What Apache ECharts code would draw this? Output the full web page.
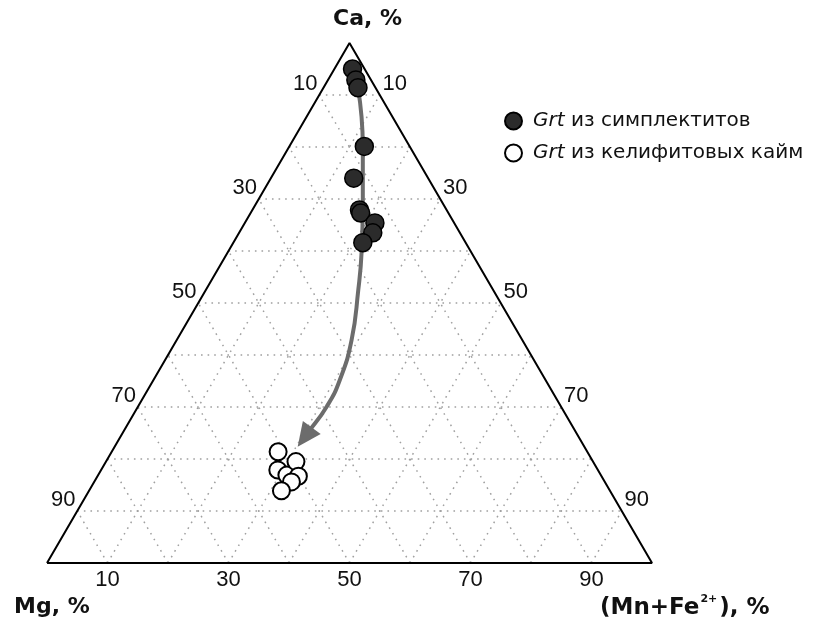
<!DOCTYPE html>
<html><head><meta charset="utf-8">
<script src="https://cdn.jsdelivr.net/npm/echarts@6/dist/echarts.min.js"></script>
<style>html,body{margin:0;padding:0;background:#fff}#c{width:819px;height:624px}</style>
</head><body><div id="c"></div>
<script>
// Ternary compositions: [Ca %, Mg %, (Mn+Fe2+) %]
const symplectite = [
  [95.0, 2.0, 3.0],
  [92.9, 2.5, 4.6],
  [91.4, 2.9, 5.7],
  [80.1, 7.5, 12.4],
  [74.0, 12.3, 13.7],
  [67.9, 14.4, 17.7],
  [67.3, 14.5, 18.2],
  [65.4, 13.1, 21.5],
  [63.5, 14.4, 22.1],
  [61.6, 17.0, 21.4]
];
const kelyphite = [
  [21.4, 51.1, 27.5],
  [17.9, 52.9, 29.2],
  [16.9, 51.9, 31.2],
  [19.5, 49.1, 31.4],
  [16.7, 50.1, 33.2],
  [15.6, 51.8, 32.6],
  [13.9, 54.3, 31.8]
];
// Arrow path (annotation): [Ca %, (Mn+Fe) %]
const arrowPath = [
  [91.4, 5.7], [80.0, 12.2], [69.8, 17.3], [59.8, 22.1], [52.5, 25.2],
  [42.9, 28.9], [35.2, 30.8], [30.1, 31.2], [25.0, 30.6], [24.2, 30.5]
];
const tickValues = [10, 30, 50, 70, 90];
const gridValues = [10, 20, 30, 40, 50, 60, 70, 80, 90];
const seriesNames = ['Grt из симплектитов', 'Grt из келифитовых кайм'];

// ternary -> cartesian (x: 0..100 along base, y: Ca %)
function toXY(ca, f) { return [f + ca / 2, ca]; }

const gridLines = [];
gridValues.forEach(k => {
  gridLines.push({coords: [toXY(k, 0), toXY(k, 100 - k)]});          // Ca = k
  gridLines.push({coords: [toXY(0, k), toXY(100 - k, k)]});          // MnFe = k
  gridLines.push({coords: [toXY(0, 100 - k), toXY(100 - k, 0)]});    // Mg = k
});

const font = "'Liberation Sans', Arial, sans-serif";
const wide = "'DejaVu Sans', sans-serif";
const tickStyle = {fontFamily: font, fontSize: 22, color: '#111'};

const chart = echarts.init(document.getElementById('c'));
chart.setOption({
  animation: false,
  backgroundColor: '#fff',
  grid: {left: 47, right: 167, top: 43, bottom: 61},
  xAxis: {
    type: 'value', min: 0, max: 100, interval: 10,
    axisLine: {show: false}, axisTick: {show: false}, splitLine: {show: false},
    axisLabel: Object.assign({margin: 6, formatter: v => tickValues.includes(v) ? String(v) : ''}, tickStyle)
  },
  yAxis: {type: 'value', min: 0, max: 100, show: false},
  title: [
    {text: 'Ca, %', left: 328, top: 3, textStyle: {fontFamily: wide, fontSize: 22, fontWeight: 'bold', color: '#111'}},
    {text: 'Mg, %', left: 9, top: 591, textStyle: {fontFamily: wide, fontSize: 22, fontWeight: 'bold', color: '#111'}},
    {text: '{a|(Mn+Fe}{s|2+}{a|), %}', left: 595, top: 589, textStyle: {rich: {
      a: {fontFamily: wide, fontSize: 23, fontWeight: 'bold', color: '#111', lineHeight: 28},
      s: {fontFamily: wide, fontSize: 11, fontWeight: 'bold', color: '#111', padding: [0, 2, 17, 1], lineHeight: 28}
    }}}
  ],
  legend: {
    data: seriesNames, orient: 'vertical', left: 499, top: 106, itemGap: 12,
    itemWidth: 17, itemHeight: 17, icon: 'circle',
    formatter: n => n.replace('Grt', '{i|Grt}'),
    textStyle: {fontFamily: wide, fontSize: 20, color: '#111', padding: [0, 0, 0, 6],
      rich: {i: {fontFamily: wide, fontSize: 20, fontStyle: 'italic', color: '#111'}}}
  },
  series: [
    {
      type: 'lines', coordinateSystem: 'cartesian2d', polyline: false, silent: true, z: 1,
      lineStyle: {color: '#a0a0a0', width: 1.5, type: [1.6, 5], opacity: 1},
      data: gridLines
    },
    {
      type: 'line', silent: true, symbol: 'none', clip: false, z: 3,
      lineStyle: {color: '#000', width: 2},
      data: [toXY(0, 0), toXY(0, 100), toXY(100, 0), toXY(0, 0)]
    },
    {
      type: 'scatter', silent: true, symbolSize: 1, itemStyle: {color: 'transparent', opacity: 1},
      label: Object.assign({show: true, position: 'top', distance: 0, offset: [-14, 0], formatter: p => p.data[2]}, tickStyle),
      data: tickValues.map(v => toXY(100 - v, 0).concat([v]))
    },
    {
      type: 'scatter', silent: true, symbolSize: 1, itemStyle: {color: 'transparent', opacity: 1},
      label: Object.assign({show: true, position: 'top', distance: 0, offset: [15, 0], formatter: p => p.data[2]}, tickStyle),
      data: tickValues.map(v => toXY(100 - v, v).concat([v]))
    },
    {
      type: 'line', silent: true, symbol: 'none', smooth: 0.5, clip: false, z: 4,
      lineStyle: {color: '#6c6c6c', width: 4},
      data: arrowPath.map(p => toXY(p[0], p[1]))
    },
    {
      type: 'scatter', silent: true, z: 4, symbol: 'triangle', symbolSize: [22, 24], symbolRotate: 144,
      itemStyle: {color: '#6c6c6c', opacity: 1},
      data: [toXY(arrowPath[arrowPath.length - 1][0], arrowPath[arrowPath.length - 1][1])]
    },
    {
      name: seriesNames[0], type: 'scatter', z: 5, symbol: 'circle', symbolSize: 18,
      itemStyle: {color: '#2b2b2b', borderColor: '#000', borderWidth: 1.5, opacity: 1},
      data: symplectite.map(p => toXY(p[0], p[2]))
    },
    {
      name: seriesNames[1], type: 'scatter', z: 5, symbol: 'circle', symbolSize: 17,
      itemStyle: {color: '#fff', borderColor: '#000', borderWidth: 2, opacity: 1},
      data: kelyphite.map(p => toXY(p[0], p[2]))
    }
  ]
});
</script>
</body></html>
